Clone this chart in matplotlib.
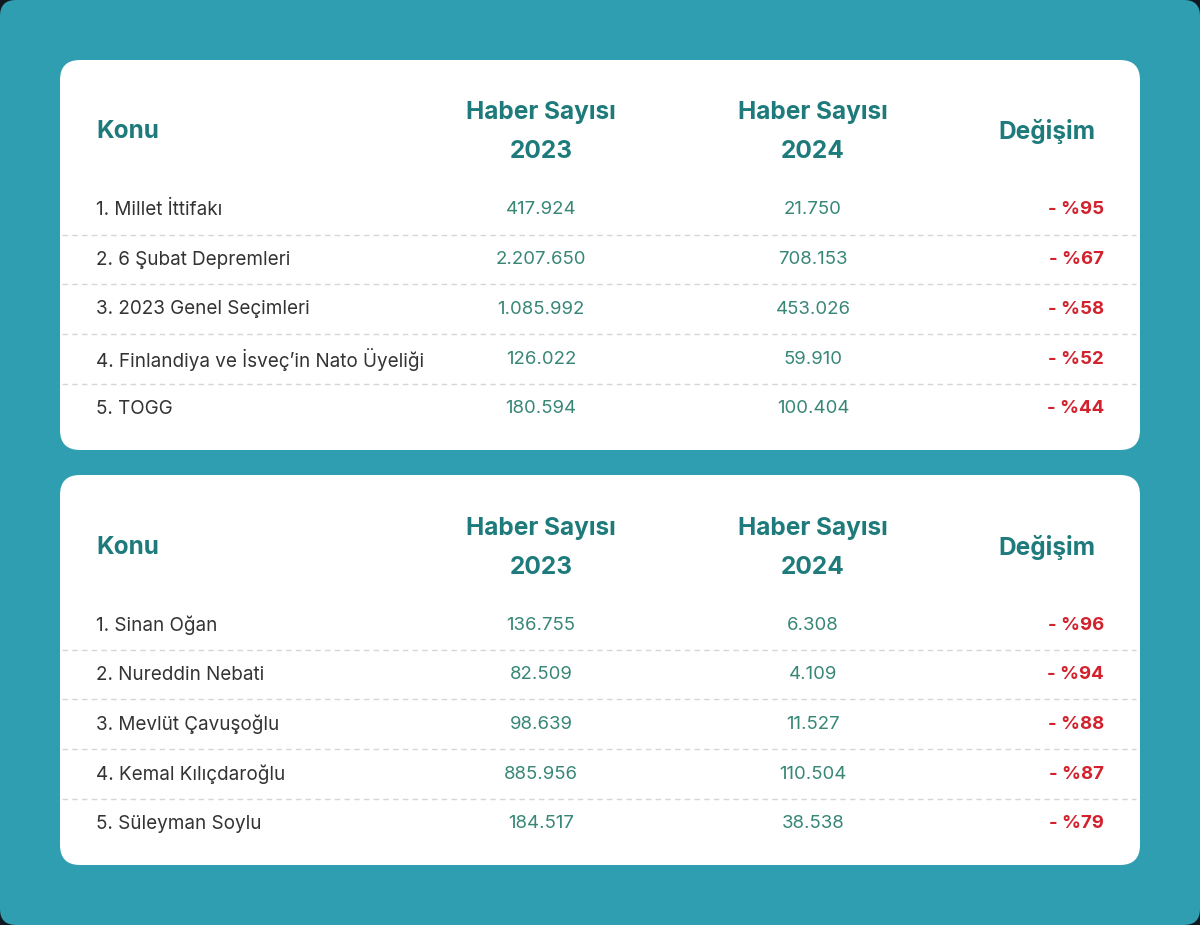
import matplotlib.pyplot as plt
from matplotlib.patches import FancyBboxPatch

plt.rcParams['font.family'] = ['Inter', 'DejaVu Sans']

# data
topics_1 = ["1. Millet İttifakı", "2. 6 Şubat Depremleri", "3. 2023 Genel Seçimleri",
            "4. Finlandiya ve İsveç’in Nato Üyeliği", "5. TOGG"]
news_2023_1 = ["417.924", "2.207.650", "1.085.992", "126.022", "180.594"]
news_2024_1 = ["21.750", "708.153", "453.026", "59.910", "100.404"]
change_1 = ["- %95", "- %67", "- %58", "- %52", "- %44"]

topics_2 = ["1. Sinan Oğan", "2. Nureddin Nebati", "3. Mevlüt Çavuşoğlu",
            "4. Kemal Kılıçdaroğlu", "5. Süleyman Soylu"]
news_2023_2 = ["136.755", "82.509", "98.639", "885.956", "184.517"]
news_2024_2 = ["6.308", "4.109", "11.527", "110.504", "38.538"]
change_2 = ["- %96", "- %94", "- %88", "- %87", "- %79"]

TEAL_BG = "#2f9eb0"
HEAD = "#1f7b7b"
NUM = "#378676"
RED = "#d2222d"
TEXT = "#333333"


def draw_card(ax, top, topics, v23, v24, change):
    card = FancyBboxPatch((60, top), 1080, 390, boxstyle="round,pad=0,rounding_size=20",
                          facecolor="white", edgecolor="none")
    ax.add_patch(card)
    hs = 17.6
    ax.text(96, top + 72, "Konu", color=HEAD, fontsize=hs, fontweight="bold", va="center")
    ax.text(541, top + 53, "Haber Sayısı", color=HEAD, fontsize=hs, fontweight="bold",
            va="center", ha="center")
    ax.text(541, top + 92, "2023", color=HEAD, fontsize=hs, fontweight="bold",
            va="center", ha="center")
    ax.text(813, top + 53, "Haber Sayısı", color=HEAD, fontsize=hs, fontweight="bold",
            va="center", ha="center")
    ax.text(813, top + 92, "2024", color=HEAD, fontsize=hs, fontweight="bold",
            va="center", ha="center")
    ax.text(1047, top + 72, "Değişim", color=HEAD, fontsize=hs, fontweight="bold",
            va="center", ha="center")
    for i in range(len(topics)):
        y = top + 150 + i * 49.7
        ax.text(96, y, topics[i], color=TEXT, fontsize=13.6, va="center")
        ax.text(541, y, v23[i], color=NUM, fontsize=13.4, va="center", ha="center")
        ax.text(813, y, v24[i], color=NUM, fontsize=13.4, va="center", ha="center")
        ax.text(1104, y, change[i], color=RED, fontsize=13.4, fontweight="bold",
                va="center", ha="right")
        if i < len(topics) - 1:
            ax.plot([62, 1136], [y + 24.5, y + 24.5], color="#d6d6d6", lw=1,
                    ls=(0, (4, 3)))


fig = plt.figure(figsize=(12, 9.25), dpi=100)
fig.patch.set_facecolor("#101820")
ax = fig.add_axes([0, 0, 1, 1])
ax.set_xlim(0, 1200)
ax.set_ylim(925, 0)
ax.axis("off")

ax.add_patch(FancyBboxPatch((0, 0), 1200, 925, boxstyle="round,pad=0,rounding_size=16",
                            facecolor=TEAL_BG, edgecolor="none"))

draw_card(ax, 60, topics_1, news_2023_1, news_2024_1, change_1)
draw_card(ax, 475, topics_2, news_2023_2, news_2024_2, change_2)

fig.savefig("out.png", dpi=100, facecolor=fig.get_facecolor())
